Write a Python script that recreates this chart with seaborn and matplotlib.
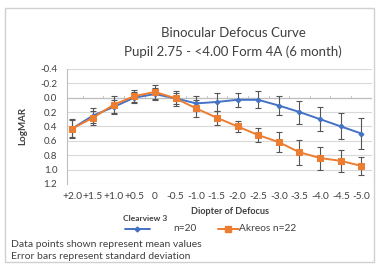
import matplotlib
matplotlib.use("Agg")
import matplotlib.pyplot as plt
import numpy as np
import pandas as pd
import seaborn as sns
from matplotlib.patches import Rectangle
from matplotlib.lines import Line2D

# Defocus curve data (LogMAR, mean +/- SD)
diopters = ["+2.0", "+1.5", "+1.0", "+0.5", "0", "-0.5", "-1.0", "-1.5",
            "-2.0", "-2.5", "-3.0", "-3.5", "-4.0", "-4.5", "-5.0"]
clearview_mean = [0.43, 0.25, 0.13, 0.00, -0.05, 0.01, 0.08, 0.06,
                  0.03, 0.03, 0.11, 0.20, 0.30, 0.40, 0.50]
clearview_sd = [0.13, 0.10, 0.10, 0.08, 0.08, 0.08, 0.10, 0.12,
                0.10, 0.12, 0.13, 0.16, 0.17, 0.18, 0.22]
akreos_mean = [0.43, 0.28, 0.10, -0.02, -0.08, 0.01, 0.15, 0.28,
               0.40, 0.52, 0.62, 0.76, 0.84, 0.88, 0.95]
akreos_sd = [0.12, 0.10, 0.12, 0.08, 0.10, 0.10, 0.12, 0.10,
             0.08, 0.10, 0.14, 0.17, 0.16, 0.15, 0.13]
yticks = [-0.4, -0.2, 0.0, 0.2, 0.4, 0.6, 0.8, 1.0, 1.2]

blue = "#4472C4"
orange = "#ED7D31"
txt = "#404040"

sns.set_style("white")
plt.rcParams['font.family'] = ['Lato', 'DejaVu Sans']

pos = np.arange(len(diopters))
df = pd.DataFrame({
    "pos": np.concatenate([pos, pos]),
    "logmar": clearview_mean + akreos_mean,
    "sd": clearview_sd + akreos_sd,
    "series": ["Clearview"] * len(pos) + ["Akreos"] * len(pos),
})

fig = plt.figure(figsize=(3.79, 2.65), dpi=100)
fig.patches.append(Rectangle((0.013, 0.01), 0.975, 0.96, transform=fig.transFigure,
                             fill=False, edgecolor="#d0d0d0", linewidth=1.0))
ax = fig.add_axes([0.177, 0.306, 0.804, 0.434])

for name, color, marker, ms in [("Clearview", blue, "D", 2.5), ("Akreos", orange, "s", 4)]:
    sub = df[df["series"] == name]
    ax.errorbar(sub["pos"], sub["logmar"], yerr=sub["sd"], fmt="none",
                ecolor="#555555", elinewidth=0.8, capsize=2.2, capthick=0.8, zorder=2)
    sns.lineplot(data=sub, x="pos", y="logmar", ax=ax, color=color, marker=marker,
                 markersize=ms, markeredgecolor=color, linewidth=1.4, zorder=3,
                 errorbar=None, legend=False)

ax.set_ylim(1.2, -0.4)
ax.set_xlim(-0.25, 14.5)
ax.set_yticks(yticks)
ax.set_yticklabels([f"{v:.1f}" for v in yticks], fontsize=7, color=txt)
ax.set_xticks([])
ax.yaxis.grid(True, color="#d9d9d9", linewidth=0.8)
ax.set_axisbelow(True)
for s in ["top", "right", "bottom"]:
    ax.spines[s].set_visible(False)
ax.spines["left"].set_color("#bfbfbf")
ax.tick_params(axis="y", length=0, pad=7)

# category axis crossing at 0.0
ax.axhline(0.0, color="#bfbfbf", linewidth=0.9, zorder=1)
for p in np.arange(-0.5, 15, 1.0):
    ax.plot([p, p], [0.0, -0.02], color="#bfbfbf", linewidth=0.7, zorder=1)

for p, lab in zip(pos, diopters):
    ax.text(p, 1.38, lab, ha="center", va="center", fontsize=7.3, color=txt)

ax.set_xlabel("")
ax.set_ylabel("LogMAR", fontsize=7, fontweight="bold", color=txt, labelpad=9)

fig.text(0.615, 0.875, "Binocular Defocus Curve", ha="center", va="center",
         fontsize=9.5, color=txt)
fig.text(0.615, 0.805, "Pupil 2.75 - <4.00 Form 4A (6 month)", ha="center", va="center",
         fontsize=9.5, color=txt)
fig.text(0.607, 0.2, "Diopter of Defocus", ha="center", va="center",
         fontsize=6.6, fontweight="bold", color=txt)

# legend
fig.text(0.383, 0.175, "Clearview 3", ha="center", va="center", fontsize=6,
         fontweight="bold", color=txt)
fig.lines.append(Line2D([0.33, 0.3625, 0.395], [0.137, 0.137, 0.137],
                        transform=fig.transFigure, color=blue, linewidth=1.4,
                        marker="D", markersize=2.5, markevery=[1], markeredgecolor=blue))
fig.text(0.457, 0.137, "n=20", ha="left", va="center", fontsize=7.3, color=txt)
fig.lines.append(Line2D([0.575, 0.602, 0.63], [0.137, 0.137, 0.137],
                        transform=fig.transFigure, color=orange, linewidth=1.4,
                        marker="s", markersize=4, markevery=[1], markeredgecolor=orange))
fig.text(0.63, 0.137, "Akreos n=22", ha="left", va="center", fontsize=7.3, color=txt)

fig.text(0.03, 0.078, "Data points shown represent mean values", ha="left", va="center",
         fontsize=7.5, color=txt)
fig.text(0.03, 0.033, "Error bars represent standard deviation", ha="left", va="center",
         fontsize=7.5, color=txt)

fig.savefig("out.png", dpi=100)
